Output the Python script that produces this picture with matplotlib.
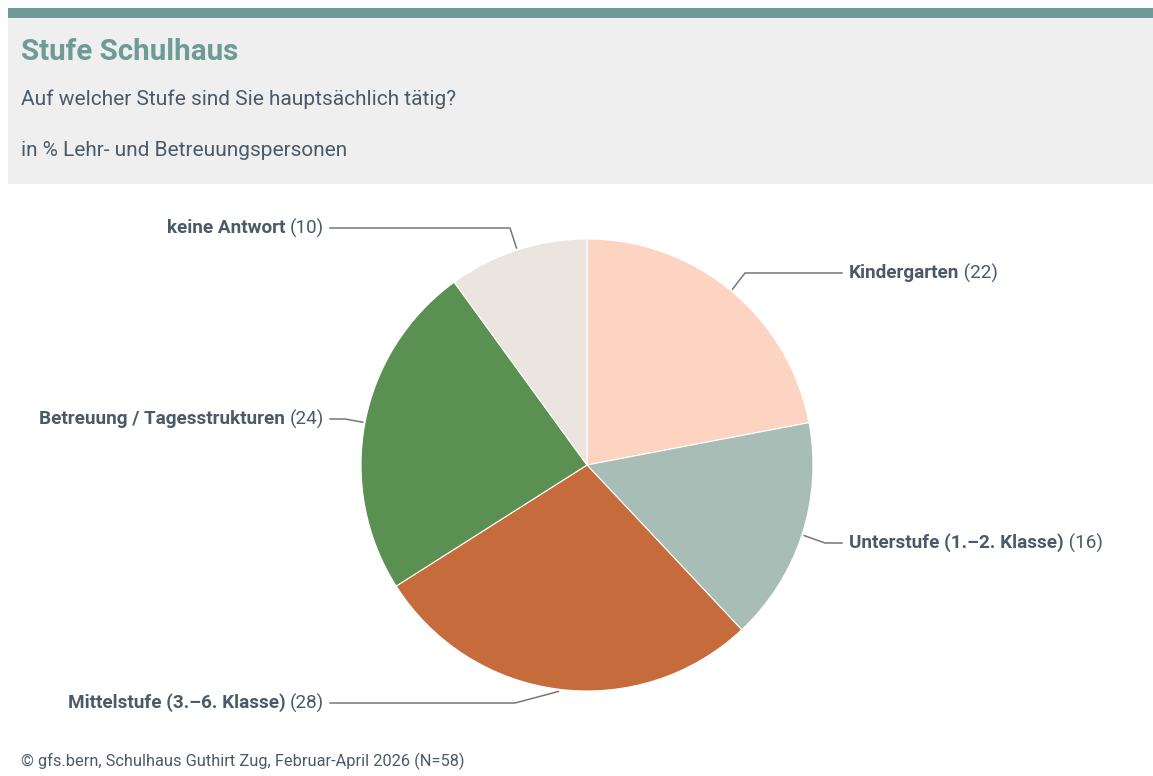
import numpy as np
import matplotlib
matplotlib.use("Agg")
import matplotlib.pyplot as plt
from matplotlib.patches import Rectangle

plt.rcParams['font.family'] = ['Roboto', 'DejaVu Sans']

# data
categories = ['Kindergarten', 'Unterstufe (1.–2. Klasse)', 'Mittelstufe (3.–6. Klasse)',
              'Betreuung / Tagesstrukturen', 'keine Antwort']
values = [22, 16, 28, 24, 10]
colors = ['#fdd4c2', '#a7bdb6', '#c66b3b', '#5a9052', '#ebe5e0']

title = 'Stufe Schulhaus'
subtitle = 'Auf welcher Stufe sind Sie hauptsächlich tätig?'
unit_note = 'in % Lehr- und Betreuungspersonen'
source = '© gfs.bern, Schulhaus Guthirt Zug, Februar-April 2026 (N=58)'

# label layout (pixels, y from top)
label_y = [273, 543, 703, 419, 228]
elbow_x = [745, 825, 515, 345, 510]
side = ['r', 'r', 'l', 'l', 'l']

W, H = 1153, 776
text_col = '#4b5a68'
lab_fs = 13.6

fig = plt.figure(figsize=(W / 100, H / 100), dpi=100)
ax = fig.add_axes([0, 0, 1, 1])

def py(y):
    return H - y

# header
ax.add_patch(Rectangle((8, py(184)), W - 8, 166, facecolor='#efefef', edgecolor='none'))
ax.add_patch(Rectangle((8, py(18)), W - 8, 10, facecolor='#6e9a97', edgecolor='none'))
ax.text(21, py(52), title, fontsize=21.3, fontweight='bold', color='#6d9c96', va='center')
ax.text(21, py(99), subtitle, fontsize=15, color=text_col, va='center')
ax.text(21, py(150), unit_note, fontsize=15, color=text_col, va='center')
ax.text(21, py(761), source, fontsize=11.8, color=text_col, va='center')

# pie
cx, cy, R = 587, py(465), 226
wedges, _ = ax.pie(values, colors=colors, startangle=90, counterclock=False,
                   center=(cx, cy), radius=R, frame=True,
                   wedgeprops=dict(edgecolor='white', linewidth=0.8))
ax.set_xlim(0, W)
ax.set_ylim(0, H)
ax.set_aspect('equal')
ax.axis('off')

for i, w in enumerate(wedges):
    mid = np.deg2rad((w.theta1 + w.theta2) / 2)
    ax_, ay_ = cx + 1.01 * R * np.cos(mid), cy + 1.01 * R * np.sin(mid)
    ey = py(label_y[i])
    ex = elbow_x[i]
    endx = 842 if side[i] == 'r' else 330
    ax.plot([ax_, ex, endx], [ay_, ey, ey], color='#777777', lw=1.1, solid_joinstyle='miter')
    num = f'({values[i]})'
    if side[i] == 'r':
        t = ax.text(849, ey, categories[i], fontsize=lab_fs, fontweight='bold',
                    color=text_col, va='center', ha='left')
        ax.annotate(' ' + num, xy=(1, 0.5), xycoords=t, va='center', ha='left',
                    fontsize=lab_fs, color=text_col)
    else:
        t = ax.text(324, ey, num, fontsize=lab_fs, color=text_col, va='center', ha='right')
        ax.annotate(categories[i] + ' ', xy=(0, 0.5), xycoords=t, va='center', ha='right',
                    fontsize=lab_fs, fontweight='bold', color=text_col)

fig.savefig('out.png', dpi=100, facecolor='white')
